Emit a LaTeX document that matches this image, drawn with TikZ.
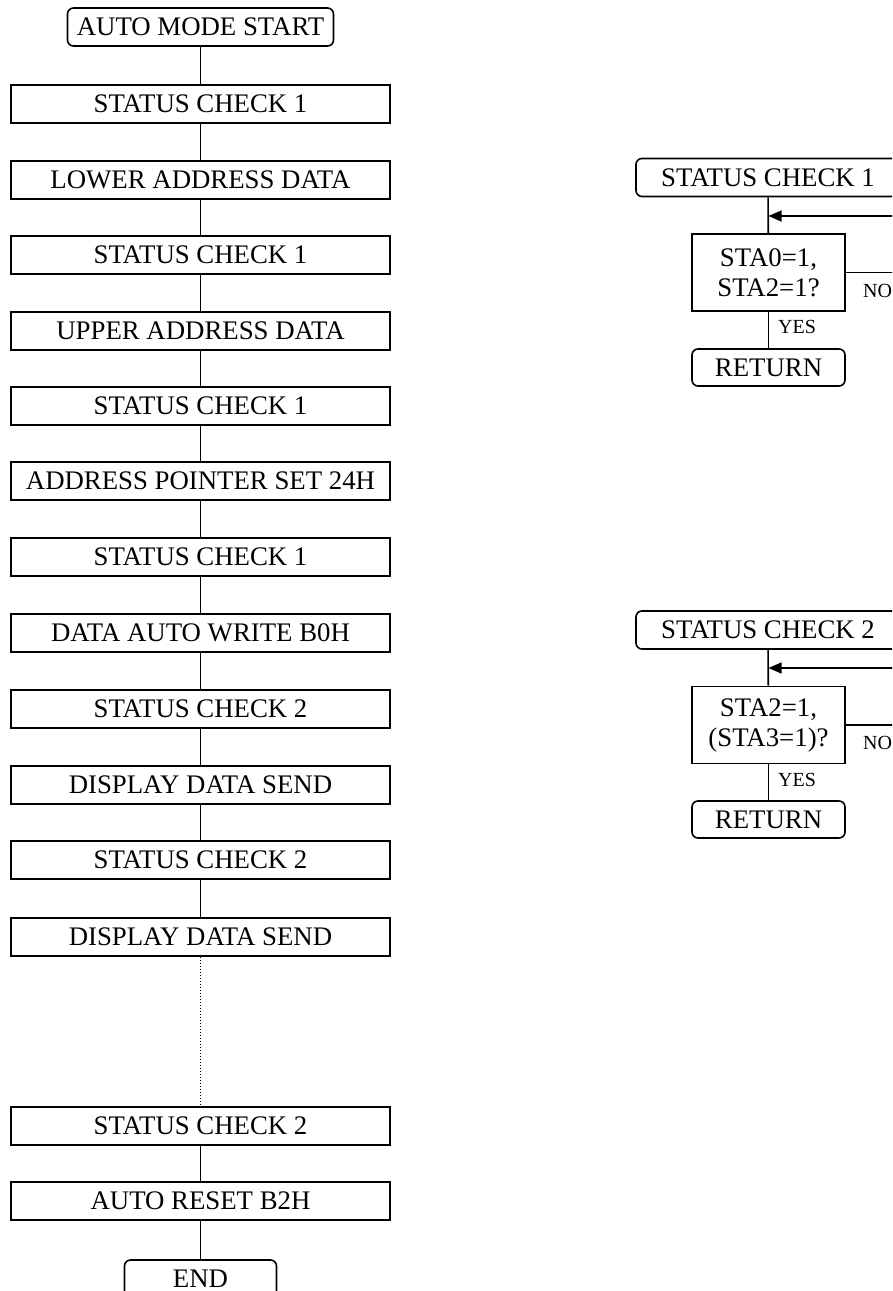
\documentclass[tikz,border=0pt]{standalone}
\usepackage{fontspec}
\setmainfont{Liberation Serif}
\usetikzlibrary{arrows.meta}
\tikzset{
  every node/.style={font=\fontsize{26.8}{30}\selectfont},
  stepbox/.style={draw,line width=1.6pt,minimum width=379pt,minimum height=38pt,inner sep=0pt},
  termbox/.style={draw,line width=1.6pt,rounded corners=6pt,minimum height=38pt,inner sep=0pt},
  decbox/.style={draw,line width=1.6pt,minimum width=153pt,minimum height=77pt,inner sep=0pt,align=center},
  conn/.style={line width=1.6pt},
  lbl/.style={font=\fontsize{20}{22}\selectfont,inner sep=0pt},
}
\begin{document}
\begin{tikzpicture}[x=1pt,y=-1pt]
\useasboundingbox (0,0) rectangle (892,1291);
\clip (0,0) rectangle (892,1291);
\fill[white] (0,0) rectangle (892,1291);
% left column
\node[termbox,minimum width=266pt] (start) at (200.5,27) {AUTO MODE START};
\node[stepbox] (b1) at (200.5,104) {STATUS CHECK 1};
\node[stepbox] (b2) at (200.5,180) {LOWER ADDRESS DATA};
\node[stepbox] (b3) at (200.5,255) {STATUS CHECK 1};
\node[stepbox] (b4) at (200.5,331) {UPPER ADDRESS DATA};
\node[stepbox] (b5) at (200.5,406) {STATUS CHECK 1};
\node[stepbox] (b6) at (200.5,481) {ADDRESS POINTER SET 24H};
\node[stepbox] (b7) at (200.5,557) {STATUS CHECK 1};
\node[stepbox] (b8) at (200.5,633) {DATA AUTO WRITE B0H};
\node[stepbox] (b9) at (200.5,709) {STATUS CHECK 2};
\node[stepbox] (b10) at (200.5,785) {DISPLAY DATA SEND};
\node[stepbox] (b11) at (200.5,860) {STATUS CHECK 2};
\node[stepbox] (b12) at (200.5,937) {DISPLAY DATA SEND};
\node[stepbox] (b13) at (200.5,1126) {STATUS CHECK 2};
\node[stepbox] (b14) at (200.5,1201) {AUTO RESET B2H};
\node[termbox,minimum width=152pt] (end) at (200.5,1279) {END};
\draw[conn] (start) -- (b1);
\foreach \a/\b in {b1/b2,b2/b3,b3/b4,b4/b5,b5/b6,b6/b7,b7/b8,b8/b9,b9/b10,b10/b11,b11/b12,b13/b14,b14/end}
  \draw[conn] (\a) -- (\b);
\draw[line width=1pt,dotted] (b12) -- (b13);
% right: status check 1
\node[termbox,minimum width=264pt] (sc1) at (768,177.5) {STATUS CHECK 1};
\node[decbox] (d1) at (768.5,272.5) {STA0=1,\\STA2=1?};
\node[termbox,minimum width=153pt,minimum height=37pt] (r1) at (768.5,367.5) {RETURN};
\coordinate (j1) at (768.5,216);
\coordinate (o1a) at (950,272.5);
\coordinate (o1b) at (950,216);
\draw[conn] (sc1) -- (d1);
\draw[conn] (d1) -- (r1);
\draw[conn] (d1.east) -- (o1a) -- (o1b);
\draw[conn,-{Triangle[length=13pt,width=11pt]}] (o1b) -- (j1);
\node[lbl] (no1) at (877.5,291) {NO};
\node[lbl] (yes1) at (797,326.5) {YES};
% right: status check 2
\node[termbox,minimum width=264pt] (sc2) at (768,630) {STATUS CHECK 2};
\node[decbox] (d2) at (768.5,725) {STA2=1,\\(STA3=1)?};
\node[termbox,minimum width=153pt,minimum height=37pt] (r2) at (768.5,819.5) {RETURN};
\coordinate (j2) at (768.5,668);
\coordinate (o2a) at (950,725);
\coordinate (o2b) at (950,668);
\draw[conn] (sc2) -- (d2);
\draw[conn] (d2) -- (r2);
\draw[conn] (d2.east) -- (o2a) -- (o2b);
\draw[conn,-{Triangle[length=13pt,width=11pt]}] (o2b) -- (j2);
\node[lbl] (no2) at (877.5,742.5) {NO};
\node[lbl] (yes2) at (797,780) {YES};
\end{tikzpicture}
\end{document}
